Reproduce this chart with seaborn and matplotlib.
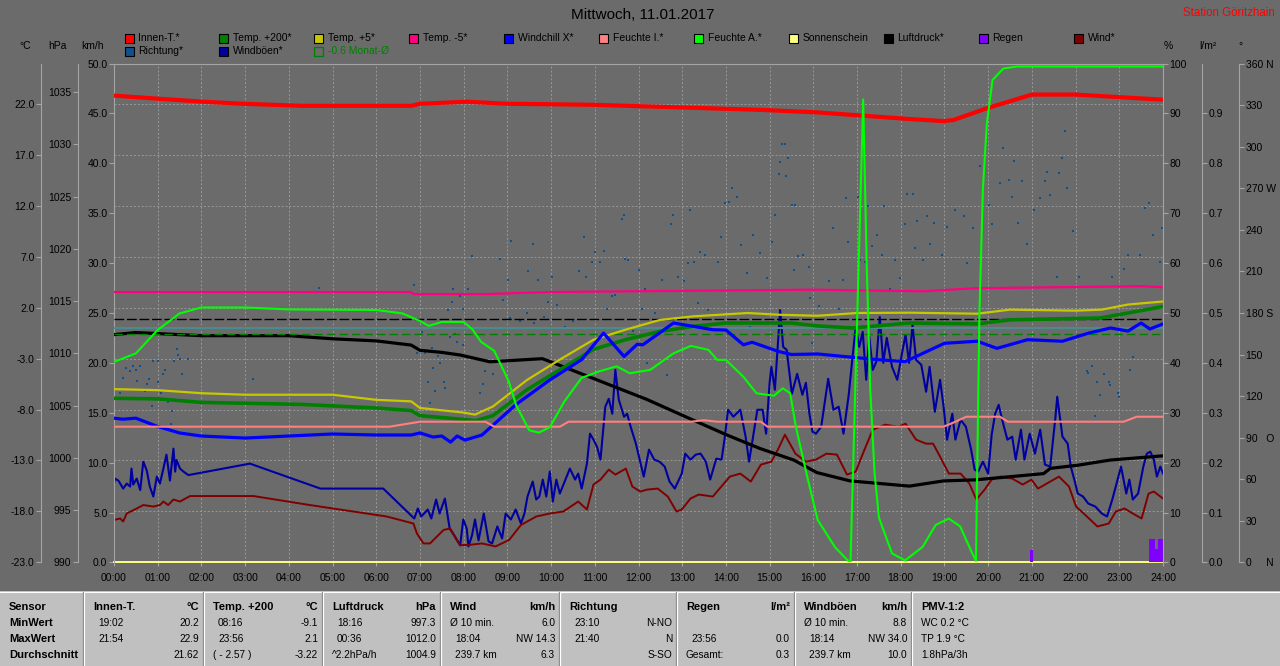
import matplotlib
matplotlib.use("Agg")
import matplotlib.pyplot as plt
from matplotlib.patches import Rectangle
import seaborn as sns

plt.rcParams['font.family'] = ['Liberation Sans', 'DejaVu Sans']

BG = '#6b6b6b'
SPINE = '#a4a4a4'
GRID = '#999999'

# ---------------- data (hour of day, value) ----------------
innen = [(0, 22.8), (1, 22.5), (2.04, 22.2), (2.95, 22.0), (4.3, 21.8), (6.8, 21.8), (7.0, 22.0),
         (8.07, 22.2), (9.0, 22.0), (10.97, 21.9), (13.25, 21.6), (14.8, 21.4), (16.1, 21.15),
         (17.07, 20.85), (18.2, 20.5), (18.97, 20.3), (19.2, 20.4), (20.0, 21.6), (21.0, 22.9),
         (22.0, 22.9), (22.8, 22.7), (24.0, 22.4)]

temp200 = [(0, -6.9), (1, -6.95), (2, -7.3), (4.3, -7.5), (6, -7.85), (6.8, -8.1), (7.0, -8.6),
           (8.07, -9.0), (8.27, -9.1), (8.67, -8.6), (9.45, -6.05), (10.2, -4.1), (10.97, -2.1),
           (11.7, -1.15), (12.5, -0.33), (13.25, 0.16), (14.0, 0.49), (15.5, 0.49), (16.1, 0.2),
           (16.9, 0.0), (18.2, 0.49), (19.75, 0.4), (20.5, 0.8), (22.56, 0.98), (23.2, 1.47), (24.0, 2.1)]

temp5 = [(0, -6.0), (1, -6.1), (2, -6.4), (3, -6.55), (5, -6.55), (6, -7.05), (6.8, -7.2), (7.0, -7.85),
         (8.0, -8.3), (8.26, -8.5), (8.67, -7.7), (9.45, -5.1), (10.2, -3.1), (10.97, -1.15),
         (11.7, -0.17), (12.5, 0.8), (13.25, 1.14), (14.5, 1.47), (15.2, 1.3), (16.1, 1.2), (17.0, 1.47),
         (18.2, 1.5), (19.75, 1.4), (20.5, 1.8), (22.0, 1.7), (22.6, 1.8), (23.2, 2.3), (24.0, 2.6)]

temp_m5 = [(0, 3.53), (6.8, 3.53), (6.85, 3.33), (8.5, 3.33), (10.0, 3.53), (16.0, 3.76), (18.5, 3.6),
           (19.7, 3.9), (23.5, 4.1), (24.0, 4.0)]

windchill = [(0, -8.85), (0.2, -8.95), (0.5, -8.85), (1.0, -9.67), (1.5, -10.3), (2.0, -10.6), (3.0, -10.8),
             (4.0, -10.6), (5.0, -10.4), (6.0, -10.5), (6.8, -10.5), (7.0, -10.3), (7.3, -10.7), (7.5, -10.6),
             (7.7, -11.2), (7.85, -10.6), (8.03, -11.0), (8.42, -10.5), (9.2, -7.5), (9.97, -5.1),
             (10.7, -3.1), (11.2, -0.5), (11.67, -2.8), (11.97, -1.6), (12.1, -1.65), (12.8, 0.49),
             (13.7, -0.17), (14.0, -0.2), (14.4, -1.65), (14.6, -1.4), (15.2, -2.3), (15.5, -2.6),
             (16.1, -2.55), (17.45, -3.1), (18.1, -3.3), (19.0, -1.5), (19.75, -1.3), (20.2, -2.0),
             (20.9, -1.15), (21.7, -1.3), (22.3, -0.5), (22.8, 0.0), (23.2, -0.3), (23.5, 0.49),
             (23.7, -0.1), (24.0, 0.4)]

feuchte_i = [(0, 27.2), (6.3, 27.2), (7.0, 28.2), (8.5, 28.2), (8.7, 27.2), (10.2, 27.2), (10.4, 28.2),
             (13.2, 28.2), (13.5, 28.5), (13.8, 28.2), (14.8, 28.2), (14.95, 27.2), (18.98, 27.2),
             (19.2, 28.0), (19.5, 29.2), (20.27, 29.2), (20.45, 28.2), (23.1, 28.2), (23.4, 29.2), (24.0, 29.2)]

feuchte_a = [(0, 40.2), (0.5, 41.9), (1.0, 46.6), (1.5, 49.9), (2.0, 51.1), (3.0, 51.1), (4.0, 50.7),
             (6.0, 50.6), (6.6, 49.9), (7.0, 48.4), (7.2, 47.4), (7.5, 48.2), (8.0, 48.2), (8.2, 46.7),
             (8.4, 44.2), (8.7, 42.4), (9.03, 36.3), (9.2, 31.5), (9.5, 26.5), (9.72, 26.0), (9.97, 27.1),
             (10.3, 32.2), (10.7, 37.0), (11.1, 38.3), (11.5, 39.3), (11.8, 37.9), (12.27, 38.6),
             (12.8, 41.9), (13.2, 43.4), (13.6, 42.6), (13.8, 40.6), (14.0, 40.6), (14.4, 37.2),
             (14.7, 33.9), (15.1, 33.4), (15.3, 34.9), (15.47, 33.9), (15.6, 27.2), (15.86, 17.2),
             (16.1, 8.5), (16.5, 3.0), (16.8, 0.3), (16.85, 0.0), (17.14, 92.8), (17.22, 60.0),
             (17.3, 35.0), (17.4, 18.0), (17.5, 9.0), (17.8, 1.8), (18.1, 0.4), (18.5, 3.1), (18.8, 7.5),
             (19.1, 8.8), (19.36, 7.2), (19.6, 2.5), (19.72, 0.3), (19.8, 50.0), (19.88, 75.0),
             (19.97, 88.0), (20.1, 96.7), (20.35, 99.0), (20.66, 99.4), (24.0, 99.4)]

sonne = [(0, 0.0), (24, 0.0)]

luftdruck = [(0, 1011.8), (0.5, 1012.0), (1.0, 1011.9), (2.0, 1011.7), (4.0, 1011.7), (5.0, 1011.4),
             (6.0, 1011.2), (6.8, 1010.8), (7.0, 1010.3), (7.5, 1010.1), (7.92, 1009.85), (8.6, 1009.2),
             (9.8, 1009.5), (10.05, 1009.1), (10.97, 1007.6), (12.19, 1005.6), (13.26, 1003.6),
             (14.02, 1002.2), (14.78, 1000.9), (15.55, 999.8), (16.08, 998.6), (16.84, 997.8),
             (18.2, 997.3), (18.98, 997.8), (19.7, 997.9), (20.5, 998.2), (21.27, 998.5), (21.42, 999.0),
             (22.05, 999.3), (22.8, 999.8), (24.0, 1000.2)]

wind = [(0, 4.25), (0.14, 4.4), (0.21, 4.1), (0.29, 4.9), (0.52, 5.4), (0.67, 5.75), (0.9, 5.6),
        (1.05, 5.75), (1.13, 6.1), (1.24, 5.75), (1.36, 6.3), (1.51, 6.1), (1.74, 6.65), (3.19, 6.65),
        (4.48, 5.75), (6.24, 4.6), (6.85, 3.9), (6.93, 2.9), (7.08, 1.9), (7.23, 1.9), (7.54, 3.25),
        (7.69, 3.4), (7.84, 2.25), (7.92, 1.74), (8.03, 1.74), (8.11, 1.75), (8.42, 1.9), (8.73, 1.6),
        (9.04, 2.25), (9.31, 3.75), (9.66, 4.6), (9.97, 4.9), (10.28, 5.1), (10.62, 6.1), (10.82, 5.3),
        (10.97, 7.8), (11.13, 8.3), (11.32, 9.3), (11.47, 8.8), (11.71, 9.4), (11.86, 7.6), (12.04, 7.1),
        (12.2, 7.3), (12.44, 7.4), (12.67, 6.6), (12.87, 5.1), (12.99, 5.3), (13.19, 6.4), (13.38, 6.8),
        (13.7, 6.6), (14.09, 8.6), (14.33, 8.9), (14.57, 8.1), (14.8, 9.8), (15.04, 10.1), (15.2, 11.4),
        (15.35, 12.8), (15.59, 10.9), (15.83, 10.1), (16.06, 10.3), (16.3, 10.9), (16.54, 10.8),
        (16.77, 8.8), (16.97, 9.1), (17.17, 11.3), (17.36, 13.3), (17.64, 13.8), (17.95, 13.6),
        (18.11, 13.9), (18.35, 12.3), (18.58, 11.9), (18.74, 11.9), (18.9, 10.6), (19.1, 8.9),
        (19.37, 8.9), (19.57, 7.9), (19.73, 6.3), (19.92, 7.3), (20.08, 8.3), (20.28, 8.6), (20.55, 8.4),
        (20.79, 7.8), (20.99, 8.3), (21.14, 7.4), (21.34, 7.9), (21.62, 8.6), (21.85, 7.6), (22.01, 5.6),
        (22.21, 4.8), (22.5, 3.6), (22.76, 3.9), (22.92, 5.1), (23.12, 5.4), (23.31, 4.9), (23.51, 4.4),
        (23.67, 6.9), (23.79, 7.1), (24.0, 6.4)]

windboeen = [(0, 7.9), (0.02, 8.4), (0.1, 8.2), (0.21, 7.4), (0.29, 7.9), (0.37, 7.6), (0.4, 9.4),
             (0.44, 7.8), (0.52, 8.4), (0.6, 7.25), (0.67, 10.1), (0.75, 9.2), (0.82, 7.6), (0.9, 6.6),
             (0.98, 8.6), (1.05, 7.9), (1.13, 9.4), (1.2, 10.8), (1.28, 8.2), (1.36, 11.4), (1.4, 9.1),
             (1.43, 10.26), (1.51, 9.4), (1.59, 9.1), (1.7, 8.75), (3.11, 9.9), (4.72, 7.4), (6.16, 7.4),
             (6.87, 4.4), (6.95, 5.4), (7.03, 4.6), (7.18, 5.3), (7.26, 4.4), (7.37, 6.3), (7.45, 4.9),
             (7.57, 6.4), (7.68, 3.4), (7.8, 2.6), (7.92, 1.7), (7.99, 4.3), (8.07, 3.4), (8.11, 1.6),
             (8.19, 2.7), (8.26, 4.3), (8.34, 2.2), (8.46, 4.9), (8.57, 2.1), (8.65, 1.9), (8.77, 3.6),
             (8.88, 2.4), (8.96, 4.9), (9.08, 4.3), (9.19, 5.3), (9.31, 3.9), (9.39, 4.9), (9.46, 6.6),
             (9.58, 8.1), (9.66, 6.3), (9.73, 6.6), (9.81, 8.3), (9.89, 6.6), (9.97, 9.1), (10.04, 6.1),
             (10.12, 8.3), (10.2, 6.9), (10.31, 8.1), (10.43, 9.4), (10.55, 8.3), (10.62, 8.9), (10.7, 7.4),
             (10.82, 9.9), (10.89, 12.9), (10.97, 12.3), (11.05, 11.6), (11.13, 10.3), (11.24, 15.6),
             (11.32, 16.4), (11.4, 14.9), (11.47, 19.3), (11.55, 16.3), (11.67, 14.6), (11.74, 14.9),
             (11.82, 13.6), (11.94, 11.9), (12.12, 8.6), (12.24, 11.3), (12.36, 10.3), (12.48, 10.1),
             (12.6, 9.6), (12.71, 8.1), (12.83, 7.4), (12.99, 8.9), (13.07, 10.9), (13.19, 10.3),
             (13.31, 10.8), (13.42, 10.9), (13.54, 10.1), (13.64, 8.3), (13.78, 10.4), (13.9, 10.3),
             (13.97, 12.4), (14.05, 15.3), (14.17, 14.6), (14.33, 15.3), (14.45, 12.6), (14.53, 10.1),
             (14.61, 12.3), (14.72, 15.3), (14.84, 15.3), (14.92, 12.9), (15.0, 18.0), (15.04, 19.6),
             (15.12, 17.3), (15.24, 25.3), (15.31, 21.6), (15.39, 21.3), (15.51, 16.9), (15.63, 18.9),
             (15.75, 16.8), (15.83, 18.0), (15.91, 14.9), (15.98, 13.1), (16.06, 12.9), (16.18, 13.6),
             (16.34, 18.4), (16.46, 15.3), (16.58, 15.6), (16.69, 12.9), (16.81, 16.8), (16.89, 20.3),
             (16.97, 23.6), (17.05, 21.6), (17.13, 23.1), (17.21, 18.3), (17.28, 22.6), (17.36, 19.3),
             (17.44, 20.1), (17.52, 24.6), (17.6, 20.0), (17.68, 22.5), (17.8, 19.6), (17.92, 18.3),
             (18.03, 21.0), (18.11, 22.8), (18.19, 20.0), (18.27, 23.8), (18.35, 20.3), (18.47, 19.8),
             (18.58, 17.1), (18.66, 19.6), (18.78, 15.1), (18.9, 18.3), (18.98, 15.6), (19.06, 12.3),
             (19.18, 14.9), (19.25, 12.3), (19.37, 14.3), (19.49, 13.6), (19.61, 11.3), (19.69, 9.3),
             (19.77, 9.1), (19.88, 10.1), (20.0, 8.9), (20.08, 12.8), (20.16, 14.9), (20.24, 15.8),
             (20.32, 14.3), (20.44, 12.3), (20.55, 12.6), (20.63, 10.3), (20.75, 13.3), (20.83, 10.3),
             (20.95, 12.9), (21.07, 10.9), (21.19, 13.3), (21.3, 9.8), (21.42, 9.6), (21.54, 14.6),
             (21.58, 16.6), (21.7, 12.6), (21.82, 11.9), (21.89, 9.6), (21.97, 8.3), (22.05, 6.9),
             (22.17, 6.6), (22.29, 5.9), (22.45, 5.6), (22.6, 4.9), (22.72, 4.6), (22.84, 6.3),
             (22.96, 8.3), (23.04, 9.6), (23.16, 6.9), (23.23, 8.3), (23.31, 6.3), (23.43, 6.9),
             (23.55, 9.6), (23.63, 10.9), (23.71, 11.1), (23.79, 10.3), (23.86, 8.6), (23.94, 9.6), (24.0, 8.9)]

regen = [(20.99, 0.025), (23.71, 0.046), (23.78, 0.046), (23.85, 0.026), (23.92, 0.046), (23.97, 0.046)]

richtung = [(0.14, 122), (0.21, 133), (0.27, 140), (0.3, 148), (0.37, 138), (0.4, 150), (0.44, 142),
            (0.5, 139), (0.52, 131), (0.6, 142), (0.71, 124), (0.75, 129), (0.81, 132), (0.88, 113),
            (0.9, 145), (1.0, 145), (1.01, 130), (1.07, 122), (1.13, 136), (1.17, 139), (1.24, 116),
            (1.3, 100), (1.32, 109), (1.38, 145), (1.43, 154), (1.47, 150), (1.51, 147), (1.55, 136),
            (1.69, 147), (3.19, 132), (4.7, 198), (6.86, 200),
            (6.93, 151), (7.05, 166), (7.12, 151), (7.19, 130), (7.22, 115), (7.27, 155), (7.29, 140),
            (7.35, 124), (7.42, 149), (7.46, 144), (7.54, 130), (7.57, 126), (7.65, 182), (7.69, 163),
            (7.73, 188), (7.76, 197), (7.8, 165), (7.84, 159), (7.92, 192), (7.98, 157), (7.99, 183),
            (8.11, 197), (8.07, 194), (8.18, 221), (8.45, 129), (8.49, 138), (8.38, 122), (8.68, 136),
            (8.83, 219), (8.91, 189), (9.02, 204), (9.08, 232), (9.06, 176), (9.28, 174), (9.44, 180),
            (9.48, 210), (9.58, 230), (9.6, 173), (9.71, 204), (9.83, 177), (9.94, 188), (10.02, 206),
            (10.13, 186), (10.32, 170), (10.51, 174), (10.63, 210), (10.75, 235), (10.8, 206),
            (10.93, 217), (11.01, 224), (11.12, 217), (11.21, 225), (11.27, 183), (11.39, 192),
            (11.46, 193), (11.62, 248), (11.66, 251), (11.69, 219), (11.77, 218), (11.88, 167),
            (12.01, 211), (12.07, 183), (12.15, 197), (12.19, 144), (12.38, 180), (12.53, 204),
            (12.65, 135), (12.74, 244), (12.8, 251), (12.91, 206), (13.03, 203), (13.14, 216),
            (13.18, 254), (13.26, 217), (13.37, 187), (13.41, 224), (13.52, 222), (13.6, 182),
            (13.83, 217), (13.88, 235), (13.98, 259), (14.06, 260), (14.13, 270), (14.25, 264),
            (14.34, 229), (14.48, 209), (14.55, 170), (14.62, 236), (14.78, 223), (14.94, 205),
            (15.05, 231), (15.13, 251), (15.22, 280), (15.24, 289), (15.28, 302), (15.36, 302),
            (15.38, 279), (15.43, 292), (15.51, 258), (15.55, 211), (15.58, 258), (15.66, 221),
            (15.77, 222), (15.91, 213), (15.93, 191), (15.97, 158),
            (16.12, 185), (16.35, 203), (16.46, 241), (16.58, 183), (16.69, 204), (16.75, 263),
            (16.8, 231), (17.03, 264), (17.07, 218), (17.19, 217), (17.24, 257), (17.34, 228),
            (17.45, 236), (17.57, 222), (17.61, 257), (17.76, 197), (17.87, 218), (17.99, 205),
            (18.1, 244), (18.14, 266), (18.29, 266), (18.33, 227), (18.38, 246), (18.52, 218),
            (18.6, 250), (18.67, 230), (18.75, 245), (18.94, 222), (19.05, 242), (19.24, 254),
            (19.44, 250), (19.51, 216), (19.66, 241), (19.82, 286), (20.01, 258), (20.08, 244),
            (20.28, 274), (20.34, 299), (20.47, 276), (20.54, 264), (20.58, 290), (20.69, 245),
            (20.77, 275), (20.89, 230), (21.04, 254), (21.19, 263), (21.3, 275), (21.34, 282),
            (21.42, 265), (21.57, 206), (21.63, 281), (21.69, 292), (21.76, 311), (21.8, 270),
            (21.95, 239), (22.07, 206), (22.26, 138), (22.37, 142), (22.49, 130), (22.56, 121),
            (22.64, 136), (22.79, 128), (22.83, 206), (22.98, 122), (23.1, 212), (23.21, 222),
            (23.25, 139), (23.48, 222), (23.59, 256), (23.67, 259), (23.78, 236), (23.94, 217),
            (23.97, 241), (22.29, 137), (22.76, 130), (23.0, 119), (22.45, 106), (23.31, 148)]

luftdruck_norm = 1013.25
frost_line = 0.0
monat_mittel = -0.6

hours = list(range(25))
hour_labels = [f'{h:02d}:00' for h in hours]
ticks_c = [-23 + 5 * i for i in range(10)]
ticks_hpa = [990 + 5 * i for i in range(10)]
ticks_kmh = [5 * i for i in range(11)]
ticks_pct = [10 * i for i in range(11)]
ticks_rain = [i / 10 for i in range(10)]
ticks_deg = [30 * i for i in range(13)]
deg_labels = {0: '0     N', 90: '90   O', 180: '180 S', 270: '270 W', 360: '360 N'}

legend_row1 = [('Innen-T.*', '#ff0000'), ('Temp. +200*', '#008000'), ('Temp. +5*', '#c8c800'),
               ('Temp. -5*', '#ff0080'), ('Windchill X*', '#0000ff'), ('Feuchte I.*', '#ff8080'),
               ('Feuchte A.*', '#00ff00'), ('Sonnenschein', '#ffff80'), ('Luftdruck*', '#000000'),
               ('Regen', '#8000ff'), ('Wind*', '#800000')]
legend_row2 = [('Richtung*', '#10508c'), ('Windböen*', '#0000a0')]

table_cols = [
    ('Innen-T.', '°C', ['19:02', '21:54', ''], ['20.2', '22.9', '21.62']),
    ('Temp. +200', '°C', ['08:16', '23:56', '( - 2.57 )'], ['-9.1', '2.1', '-3.22']),
    ('Luftdruck', 'hPa', ['18:16', '00:36', '^2.2hPa/h'], ['997.3', '1012.0', '1004.9']),
    ('Wind', 'km/h', ['Ø 10 min.', '18:04', '239.7 km'], ['6.0', 'NW 14.3', '6.3']),
    ('Richtung', '', ['23:10', '21:40', ''], ['N-NO', 'N', 'S-SO']),
    ('Regen', 'l/m²', ['', '23:56', 'Gesamt:'], ['', '0.0', '0.3']),
    ('Windböen', 'km/h', ['Ø 10 min.', '18:14', '239.7 km'], ['8.8', 'NW 34.0', '10.0']),
    ('PMV-1:2', '', ['WC 0.2 °C', 'TP 1.9 °C', '1.8hPa/3h'], ['', '', '']),
]
row_names = ['MinWert', 'MaxWert', 'Durchschnitt']


def unzip(pairs):
    xs, ys = zip(*pairs)
    return list(xs), list(ys)


# ---------------- figure & axes ----------------
W, H = 1280, 666
fig = plt.figure(figsize=(W / 100, H / 100), dpi=100, facecolor=BG)

L, R, T, B = 114, 1163, 63.5, 562.4
ax = fig.add_axes([L / W, 1 - B / H, (R - L) / W, (B - T) / H])
ax.set_facecolor(BG)
ax.set_zorder(0)

LIM_C = (-23, 25.95)
LIM_HPA = (990, 1037.75)


def make_axis(lim, side, pos, ticks, labels, z):
    a = ax.twinx()
    a.set_zorder(z)
    a.patch.set_visible(False)
    for s in a.spines.values():
        s.set_visible(False)
    sp = a.spines[side]
    sp.set_visible(True)
    sp.set_color(SPINE)
    sp.set_position(('axes', pos))
    a.yaxis.set_ticks_position(side)
    a.set_yticks(ticks)
    a.set_yticklabels(labels)
    a.tick_params(axis='y', direction='out', length=3.5, width=0.8, color=SPINE,
                  pad=1.2, labelsize=7.5, labelcolor='black')
    a.set_ylim(*lim)
    return a


ax_deg = make_axis((0, 360), 'right', 1.0725, ticks_deg,
                   [deg_labels.get(d, str(d)) for d in ticks_deg], 1)
ax_kmh = make_axis((0, 50), 'left', 0.0, ticks_kmh, [f'{v:.1f}' for v in ticks_kmh], 2)
ax_rain = make_axis((0, 1.0), 'right', 1.0372, ticks_rain, [f'{v:.1f}' for v in ticks_rain], 3)
ax_hpa = make_axis(LIM_HPA, 'left', -0.0343, ticks_hpa, [str(v) for v in ticks_hpa], 4)
ax_c = make_axis(LIM_C, 'left', -0.0696, ticks_c, [f'{v:.1f}' for v in ticks_c], 5)
ax_pct = make_axis((0, 100), 'right', 1.0, ticks_pct, [str(v) for v in ticks_pct], 6)

# direction dots
x, y = unzip(richtung)
sns.scatterplot(x=x, y=y, ax=ax_deg, color='#10508c', marker='s', s=4, linewidth=0, legend=False)

# wind, gusts, sunshine
x, y = unzip(windboeen)
sns.lineplot(x=x, y=y, ax=ax_kmh, color='#0000a0', linewidth=1.5, estimator=None, sort=False)
x, y = unzip(wind)
sns.lineplot(x=x, y=y, ax=ax_kmh, color='#800000', linewidth=1.4, estimator=None, sort=False)
x, y = unzip(sonne)
sns.lineplot(x=x, y=y, ax=ax_kmh, color='#ffff80', linewidth=1.4, estimator=None, sort=False, clip_on=False)

# rain
x, y = unzip(regen)
ax_rain.bar(x, y, width=0.07, color='#8000ff', linewidth=0)

# pressure
ax_hpa.axhline(luftdruck_norm, color='black', linestyle=(0, (7, 2)), linewidth=1.0)
x, y = unzip(luftdruck)
sns.lineplot(x=x, y=y, ax=ax_hpa, color='black', linewidth=2.3, estimator=None, sort=False)

# temperatures
ax_c.axhline(frost_line, color='#4a8c8c', linewidth=1.4)
ax_c.axhline(monat_mittel, color='#008000', linestyle=(0, (6, 3)), linewidth=1.0)
for series, col, lw in [(temp200, '#008000', 2.6), (temp5, '#c8c800', 1.6), (temp_m5, '#ff0080', 1.6),
                        (windchill, '#0000ff', 2.3), (innen, '#ff0000', 3.0)]:
    x, y = unzip(series)
    sns.lineplot(x=x, y=y, ax=ax_c, color=col, linewidth=lw, estimator=None, sort=False)

# humidity
for series, col in [(feuchte_i, '#ff8080'), (feuchte_a, '#00ff00')]:
    x, y = unzip(series)
    sns.lineplot(x=x, y=y, ax=ax_pct, color=col, linewidth=1.5, estimator=None, sort=False)

for a in (ax_deg, ax_kmh, ax_rain, ax_hpa, ax_c, ax_pct):
    a.set_xlabel('')
    a.set_ylabel('')

ax_deg.set_ylim(0, 360)
ax_kmh.set_ylim(0, 50)
ax_rain.set_ylim(0, 1.0)
ax_hpa.set_ylim(*LIM_HPA)
ax_c.set_ylim(*LIM_C)
ax_pct.set_ylim(0, 100)

# base axis: grid + hour labels
ax.set_ylim(*LIM_C)
ax.set_yticks(ticks_c[1:])
ax.tick_params(axis='y', left=False, right=False, labelleft=False, labelright=False)
ax.set_xlim(0, 24)
ax.set_xticks(hours)
ax.set_xticklabels(hour_labels)
ax.tick_params(axis='x', length=3, width=0.8, color=SPINE, labelsize=7.5, pad=4.3, labelcolor='black')
ax.grid(True, color=GRID, linestyle=(0, (2, 2)), linewidth=0.7)
for s in ('left', 'right', 'bottom'):
    ax.spines[s].set_visible(False)
ax.spines['top'].set_color(SPINE)

# ---------------- overlay: titles, legend, table ----------------
ov = fig.add_axes([0, 0, 1, 1])
ov.set_zorder(20)
ov.patch.set_visible(False)
ov.axis('off')

ov.text(643, 15, 'Mittwoch, 11.01.2017', ha='center', va='center', fontsize=11, color='black')
ov.text(1275, 13, 'Station Göritzhain', ha='right', va='center', fontsize=8.3, color='#ff0000')

for txt, xc in [('°C', 25), ('hPa', 57), ('km/h', 92), ('%', 1168), ('l/m²', 1208), ('°', 1240)]:
    ov.text(xc, 46, txt, ha='center', va='center', fontsize=7.5)

for i, (name, col) in enumerate(legend_row1):
    x0 = 124.5 + 94.95 * i
    ov.add_patch(Rectangle((x0, 33.5), 9, 9, facecolor=col, edgecolor='black', linewidth=0.8))
    ov.text(x0 + 13.5, 38, name, ha='left', va='center', fontsize=7.5)
for i, (name, col) in enumerate(legend_row2):
    x0 = 124.5 + 94.95 * i
    ov.add_patch(Rectangle((x0, 47), 9, 9, facecolor=col, edgecolor='black', linewidth=0.8))
    ov.text(x0 + 13.5, 51.5, name, ha='left', va='center', fontsize=7.5)
x0 = 124.5 + 94.95 * 2
ov.add_patch(Rectangle((x0, 47), 9, 9, facecolor='none', edgecolor='#008000', linewidth=0.9))
ov.text(x0 + 13.5, 51.5, f'{monat_mittel:.1f} Monat-Ø', ha='left', va='center', fontsize=7.5, color='#008000')

# statistics table
ov.add_patch(Rectangle((0, 591), W, H - 591, facecolor='#c0c0c0', edgecolor='none'))
ov.plot([0, W], [591.5, 591.5], color='white', linewidth=0.8)
seps = [83, 203, 322, 440, 559, 676, 794, 911, W + 4]
for xs in seps[:-1]:
    ov.plot([xs, xs], [592, H], color='#808080', linewidth=0.9)
    ov.plot([xs + 1.3, xs + 1.3], [592, H], color='white', linewidth=0.9)

rows_y = [607, 623, 639, 655]
ov.text(9, rows_y[0], 'Sensor', ha='left', va='center', fontsize=8, fontweight='bold')
for r, nm in enumerate(row_names):
    ov.text(9, rows_y[r + 1], nm, ha='left', va='center', fontsize=8, fontweight='bold')
for c, (hdr, unit, lefts, rights) in enumerate(table_cols):
    xl = seps[c] + 10
    xr = seps[c + 1] - 4
    ov.text(xl, rows_y[0], hdr, ha='left', va='center', fontsize=8, fontweight='bold')
    ov.text(xr, rows_y[0], unit, ha='right', va='center', fontsize=8, fontweight='bold')
    for r in range(3):
        lt = lefts[r]
        indent = 5 if (len(lt) == 5 and lt[2] == ':') or lt.endswith(' km') else 0
        ov.text(xl + indent, rows_y[r + 1], lt, ha='left', va='center', fontsize=7.3)
        ov.text(xr, rows_y[r + 1], rights[r], ha='right', va='center', fontsize=7.3)

ov.set_xlim(0, W)
ov.set_ylim(H, 0)

fig.savefig('out.png', dpi=100, facecolor=BG)
